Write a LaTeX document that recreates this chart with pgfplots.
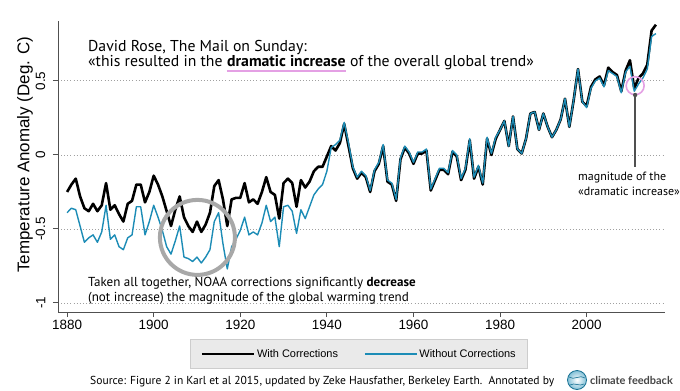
\documentclass[border=0pt]{standalone}
\usepackage{fontspec}
\setmainfont{PT Sans}
\newfontfamily\helv{Liberation Sans}
\newfontfamily\logofont{Lato}
\usepackage{pgfplots}
\pgfplotsset{compat=1.18}
\usepackage{pgfplotstable}
\definecolor{bluel}{RGB}{28,140,182}
\definecolor{axgray}{RGB}{80,80,80}
\definecolor{gridgray}{RGB}{160,160,160}
\definecolor{circgray}{RGB}{168,168,168}
\definecolor{pinkc}{RGB}{228,160,228}
\definecolor{leggray}{RGB}{234,234,234}
\definecolor{legdraw}{RGB}{205,205,205}
\pgfplotstableread{
year with without
1880 -0.25 -0.39
1881 -0.20 -0.36
1882 -0.16 -0.37
1883 -0.28 -0.48
1884 -0.36 -0.59
1885 -0.38 -0.56
1886 -0.33 -0.54
1887 -0.38 -0.59
1888 -0.34 -0.52
1889 -0.19 -0.34
1890 -0.37 -0.57
1891 -0.34 -0.54
1892 -0.40 -0.62
1893 -0.45 -0.64
1894 -0.33 -0.56
1895 -0.31 -0.54
1896 -0.20 -0.35
1897 -0.20 -0.35
1898 -0.32 -0.54
1899 -0.25 -0.45
1900 -0.14 -0.34
1901 -0.20 -0.42
1902 -0.28 -0.51
1903 -0.38 -0.62
1904 -0.48 -0.67
1905 -0.37 -0.58
1906 -0.28 -0.48
1907 -0.42 -0.69
1908 -0.48 -0.70
1909 -0.52 -0.72
1910 -0.45 -0.69
1911 -0.52 -0.73
1912 -0.47 -0.69
1913 -0.39 -0.64
1914 -0.21 -0.45
1915 -0.17 -0.39
1916 -0.30 -0.60
1917 -0.48 -0.77
1918 -0.30 -0.62
1919 -0.29 -0.57
1920 -0.29 -0.51
1921 -0.19 -0.42
1922 -0.32 -0.54
1923 -0.30 -0.52
1924 -0.33 -0.54
1925 -0.25 -0.46
1926 -0.15 -0.34
1927 -0.25 -0.45
1928 -0.27 -0.42
1929 -0.43 -0.62
1930 -0.19 -0.35
1931 -0.16 -0.34
1932 -0.19 -0.38
1933 -0.35 -0.53
1934 -0.17 -0.37
1935 -0.22 -0.43
1936 -0.18 -0.35
1937 -0.11 -0.27
1938 -0.08 -0.23
1939 -0.08 -0.20
1940 -0.01 -0.11
1941 0.06 0.05
1942 0.03 0.07
1943 0.08 0.10
1944 0.21 0.22
1945 0.06 0.08
1946 -0.09 -0.08
1947 -0.16 -0.15
1948 -0.12 -0.11
1949 -0.15 -0.14
1950 -0.25 -0.24
1951 -0.11 -0.10
1952 -0.06 -0.05
1953 0.06 0.07
1954 -0.18 -0.17
1955 -0.20 -0.19
1956 -0.31 -0.30
1957 -0.03 -0.02
1958 0.05 0.06
1959 0.01 0.02
1960 -0.06 -0.05
1961 0.01 0.02
1962 0.01 0.02
1963 0.03 0.04
1964 -0.24 -0.23
1965 -0.17 -0.16
1966 -0.10 -0.09
1967 -0.10 -0.09
1968 -0.13 -0.12
1969 0.02 0.03
1970 -0.01 0.00
1971 -0.17 -0.16
1972 -0.10 -0.09
1973 0.10 0.11
1974 -0.16 -0.15
1975 -0.08 -0.07
1976 -0.20 -0.19
1977 0.11 0.12
1978 0.00 0.01
1979 0.11 0.12
1980 0.17 0.17
1981 0.23 0.23
1982 0.06 0.06
1983 0.26 0.26
1984 0.04 0.04
1985 0.01 0.01
1986 0.11 0.11
1987 0.28 0.28
1988 0.29 0.29
1989 0.17 0.17
1990 0.28 0.28
1991 0.19 0.19
1992 0.12 0.12
1993 0.17 0.17
1994 0.24 0.24
1995 0.38 0.38
1996 0.19 0.19
1997 0.37 0.37
1998 0.58 0.58
1999 0.36 0.36
2000 0.33 0.32
2001 0.46 0.45
2002 0.51 0.50
2003 0.53 0.52
2004 0.47 0.46
2005 0.59 0.57
2006 0.56 0.55
2007 0.54 0.53
2008 0.43 0.42
2009 0.57 0.56
2010 0.64 0.60
2011 0.45 0.43
2012 0.52 0.48
2013 0.55 0.52
2014 0.61 0.58
2015 0.84 0.80
2016 0.88 0.82
}\datatable
\begin{document}
\begin{tikzpicture}[x=1bp,y=1bp]
\useasboundingbox (0,0) rectangle (680,390);
\fill[white] (0,0) rectangle (680,390);
\begin{axis}[at={(58bp,78bp)}, anchor=south west, scale only axis,
  width=607bp, height=291bp,
  xmin=1877.9, xmax=2018.1, ymin=-1.061, ymax=0.905,
  axis x line*=bottom, axis y line*=left,
  axis line style={-, axgray, line width=1bp},
  xtick={1880,1900,1920,1940,1960,1980,2000},
  xticklabels={1880,1900,1920,1940,1960,1980,2000},
  ytick={-1,-0.5,0,0.5}, yticklabels={-1,-0.5,0,0.5},
  tick align=outside, major tick length=5bp,
  tick style={axgray, line width=1bp},
  ymajorgrids, grid style={gridgray, line width=0.9bp, dash pattern=on 0.9bp off 2.2bp},
  ticklabel style={font=\helv\fontsize{13.5}{15}\selectfont},
  yticklabel style={rotate=90, anchor=south, inner ysep=7.5bp},
  ylabel={Temperature Anomaly (Deg. C)},
  ylabel style={at={(axis description cs:-0.0544,0.541)}, anchor=center, font=\helv\fontsize{17}{19}\selectfont},
  legend style={at={(axis description cs:0.496,-0.144)}, anchor=center,
    draw=legdraw, fill=leggray, legend columns=2,
    inner xsep=10bp, inner ysep=8bp,
    font=\helv\fontsize{11}{13}\selectfont,
    /tikz/every even column/.append style={column sep=24bp}},
  legend image code/.code={\draw[#1] (0bp,0bp) -- (52bp,0bp);},
  clip=false,
]
\addplot[black, line width=2.6bp, line join=round] table[x=year, y=with] {\datatable};
\addlegendentry{With Corrections}
\addplot[bluel, line width=1.4bp, line join=round] table[x=year, y=without] {\datatable};
\addlegendentry{Without Corrections}
\draw[circgray, line width=4bp] (axis cs:1910.1,-0.557) circle[radius=37.5bp];
\draw[pinkc, line width=1.6bp] (axis cs:2011.2,0.468) circle[radius=9bp];
\draw[axgray, line width=1.3bp] (axis cs:2011.2,0.405) -- (axis cs:2011.2,-0.081);
\fill[axgray] (axis cs:2011.2,0.405) circle[radius=2.2bp];
\end{axis}
% top quote
\node[anchor=base west, inner sep=0, font=\fontsize{15.8}{17}\selectfont] at (88,339) {David Rose, The Mail on Sunday:};
\node[anchor=base west, inner sep=0, font=\fontsize{15.8}{17}\selectfont] (qa) at (88,324) {«this resulted in the\ \mbox{}};
\node[anchor=base west, inner sep=0, font=\fontsize{15.8}{17}\selectfont\bfseries] (qb) at (qa.base east) {dramatic increase};
\node[anchor=base west, inner sep=0, font=\fontsize{15.8}{17}\selectfont] (qc) at (qb.base east) {\ of the overall global trend»};
\draw[pinkc, line width=2bp] ([yshift=-4.5bp]qb.base west) -- ([yshift=-4.5bp]qb.base east);
% bottom-left note
\node[anchor=base west, inner sep=0, font=\fontsize{13.1}{14}\selectfont] at (88,104) {Taken all together, NOAA corrections significantly \textbf{decrease}};
\node[anchor=base west, inner sep=0, font=\fontsize{13.1}{14}\selectfont] at (88,89) {(not increase) the magnitude of the global warming trend};
% magnitude note
\node[anchor=base west, inner sep=0, font=\fontsize{12}{14}\selectfont] at (578,210) {magnitude of the};
\node[anchor=base west, inner sep=0, font=\fontsize{12}{14}\selectfont] at (578,195) {«dramatic increase»};
% source
\node[anchor=base west, inner sep=0, font=\fontsize{11.6}{13}\selectfont] at (90,6) {Source: Figure 2 in Karl et al 2015, updated by Zeke Hausfather, Berkeley Earth.\ \ Annotated by};
\shade[inner color=white, outer color=bluel!55] (577,10) circle[radius=9.5];
\draw[bluel!80!black, line width=0.8bp] (577,10) circle[radius=9.5];
\draw[bluel!80!black, line width=0.6bp] (569,13) .. controls (574,9) and (580,16) .. (585,12);
\draw[bluel!80!black, line width=0.6bp] (570,5) .. controls (575,8) and (579,3) .. (584,6);
\node[anchor=base west, inner sep=0, font=\logofont\fontsize{11}{13}\selectfont\bfseries, text={rgb,255:red,70;green,70;blue,70}] at (590,6) {climate feedback};
\end{tikzpicture}
\end{document}
